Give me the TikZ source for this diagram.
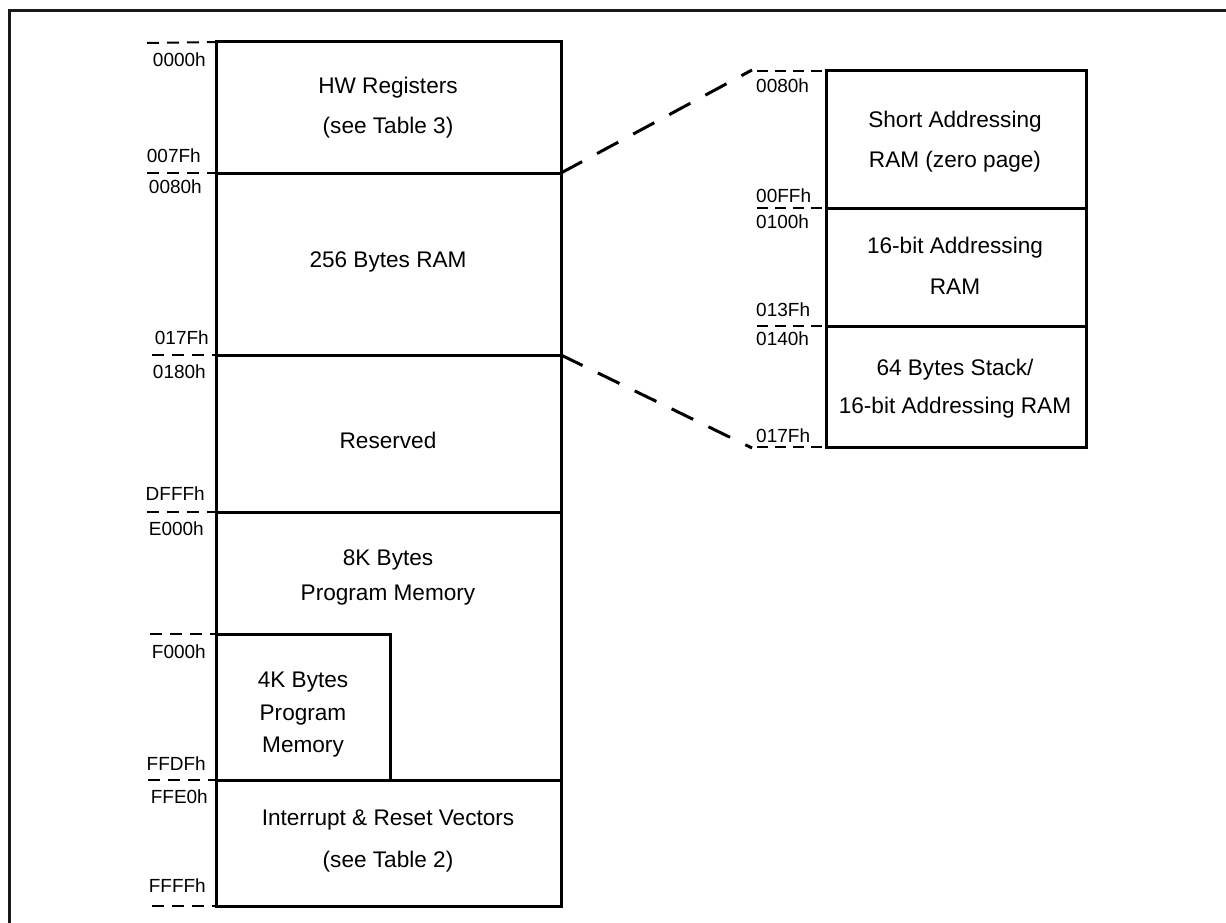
\documentclass[tikz,border=0pt]{standalone}
\usepackage{fontspec}
\setmainfont{Liberation Sans}
\begin{document}
\begin{tikzpicture}[x=1pt,y=-1pt,
  box/.style={line width=3pt},
  frame/.style={line width=3pt, draw=black!90},
  tick/.style={line width=2pt, dash pattern=on 12pt off 8pt},
  rtick/.style={line width=2.4pt, dash pattern=on 11pt off 7pt},
  zoomline/.style={line width=3pt, dash pattern=on 24pt off 17pt},
  lbl/.style={font=\fontsize{19}{19}\selectfont, inner sep=0pt},
  ltxt/.style={lbl, anchor=east},
  rtxt/.style={lbl, anchor=west},
  txt/.style={font=\fontsize{22.6}{22.6}\selectfont, inner sep=0pt, align=center}]
\useasboundingbox (0,0) rectangle (1226,923);
% outer frame
\draw[frame] (9.5,923) -- (9.5,11) -- (1226,11);
% main memory map coordinates
\coordinate (mTL) at (216,42);
\coordinate (mTR) at (561,42);
\coordinate (m1L) at (216,173);
\coordinate (m1R) at (561,173);
\coordinate (m2L) at (216,355);
\coordinate (m2R) at (561,355);
\coordinate (m3L) at (216,512);
\coordinate (m3R) at (561,512);
\coordinate (m4L) at (216,780);
\coordinate (m4R) at (561,780);
\coordinate (mBL) at (216,906);
\coordinate (mBR) at (561,906);
\coordinate (kTL) at (216,634);
\coordinate (kTR) at (390,634);
\coordinate (kBR) at (390,780);
\draw[box] (mTL) rectangle (mBR);
\draw[box] (m1L) -- (m1R);
\draw[box] (m2L) -- (m2R);
\draw[box] (m3L) -- (m3R);
\draw[box] (m4L) -- (m4R);
\draw[box] (kTL) -- (kTR) -- (kBR);
% right detail
\coordinate (rTL) at (826,71);
\coordinate (rTR) at (1086,71);
\coordinate (r1L) at (826,208);
\coordinate (r1R) at (1086,208);
\coordinate (r2L) at (826,326);
\coordinate (r2R) at (1086,326);
\coordinate (rBL) at (826,447);
\coordinate (rBR) at (1086,447);
\draw[box] (rTL) rectangle (rBR);
\draw[box] (r1L) -- (r1R);
\draw[box] (r2L) -- (r2R);
% zoom connectors
\coordinate (zT) at (752,70);
\coordinate (zB) at (752,448);
\draw[zoomline] (m1R) -- (zT);
\draw[zoomline] (m2R) -- (zB);
% left ticks
\draw[tick] (147,43) -- (mTL);
\draw[tick] (147,173) -- (m1L);
\draw[tick] (152,355) -- (m2L);
\draw[tick] (147,512) -- (m3L);
\draw[tick] (150,634) -- (kTL);
\draw[tick] (148,780) -- (m4L);
\draw[tick] (152,906) -- (mBL);
% right ticks
\draw[rtick] (757,71) -- (rTL);
\draw[rtick] (757,208) -- (r1L);
\draw[rtick] (757,326) -- (r2L);
\draw[rtick] (757,447) -- (rBL);
% left labels
\node[ltxt] (a0000) at (206,60) {0000h};
\node[ltxt] (a007F) at (201,156) {007Fh};
\node[ltxt] (a0080) at (202,187) {0080h};
\node[ltxt] (a017F) at (209,338) {017Fh};
\node[ltxt] (a0180) at (206,372) {0180h};
\node[ltxt] (aDFFF) at (205,494) {DFFFh};
\node[ltxt] (aE000) at (204,529) {E000h};
\node[ltxt] (aF000) at (206,652) {F000h};
\node[ltxt] (aFFDF) at (206,764) {FFDFh};
\node[ltxt] (aFFE0) at (208,797) {FFE0h};
\node[ltxt] (aFFFF) at (206,886) {FFFFh};
% right labels
\node[rtxt] (b0080) at (756,86) {0080h};
\node[rtxt] (b00FF) at (756,196) {00FFh};
\node[rtxt] (b0100) at (756,222) {0100h};
\node[rtxt] (b013F) at (756,310) {013Fh};
\node[rtxt] (b0140) at (756,339) {0140h};
\node[rtxt] (b017F) at (756,436) {017Fh};
% block texts
\node[txt] (hw) at (388,88) {HW Registers};
\node[txt] (hwt) at (388,128) {(see Table 3)};
\node[txt] (ram) at (388,262) {256 Bytes RAM};
\node[txt] (res) at (388,440) {Reserved};
\node[txt] (p8a) at (388,560) {8K Bytes};
\node[txt] (p8b) at (388,595) {Program Memory};
\node[txt] (p4a) at (303,682) {4K Bytes};
\node[txt] (p4b) at (303,715) {Program};
\node[txt] (p4c) at (303,747) {Memory};
\node[txt] (iv) at (388,820) {Interrupt \& Reset Vectors};
\node[txt] (ivt) at (388,862) {(see Table 2)};
\node[txt] (sa) at (955,122) {Short Addressing};
\node[txt] (sb) at (955,162) {RAM (zero page)};
\node[txt] (ba) at (955,248) {16-bit Addressing};
\node[txt] (bb) at (955,287) {RAM};
\node[txt] (sta) at (955,370) {64 Bytes Stack/};
\node[txt] (stb) at (955,408) {16-bit Addressing RAM};
\end{tikzpicture}
\end{document}
